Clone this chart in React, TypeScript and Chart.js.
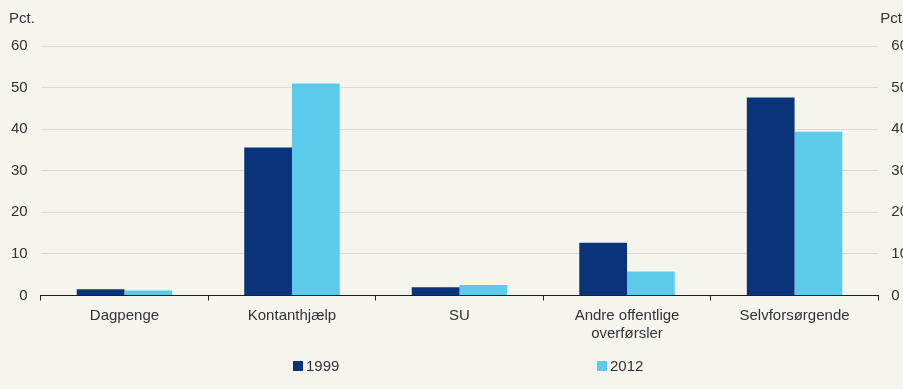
import React, { useEffect, useRef } from "react";
import { Chart, registerables } from "chart.js";

Chart.register(...registerables);

const categories: (string | string[])[] = [
  "Dagpenge",
  "Kontanthjælp",
  "SU",
  ["Andre offentlige", "overførsler"],
  "Selvforsørgende",
];
const seriesLabels = ["1999", "2012"];
const values1999 = [1.5, 35.6, 2.0, 12.7, 47.6];
const values2012 = [1.2, 51.0, 2.5, 5.8, 39.4];
const yMin = 0;
const yMax = 60;
const yStep = 10;
const unitLabel = "Pct.";

const BG = "#f5f4ed";
const DARK = "#0a3479";
const LIGHT = "#5ccbeb";
const TEXT = "#333333";
const GRID = "#dcdbd3";
const AXIS = "#1e1e1e";
const FONT = '"Liberation Sans", Arial, Helvetica, sans-serif';
const SHIFT = 13; // canvas is shifted left by this amount

const extrasPlugin = {
  id: "extras",
  afterDraw(chart: any) {
    const ctx = chart.ctx as CanvasRenderingContext2D;
    const area = chart.chartArea;
    ctx.save();
    ctx.font = `15px ${FONT}`;
    ctx.fillStyle = TEXT;
    ctx.textBaseline = "middle";
    ctx.textAlign = "left";
    ctx.fillText(unitLabel, 9 + SHIFT, 19);
    ctx.fillText(unitLabel, area.right + 2, 19);
    // legend
    const legendY = 366;
    const legendX = [293 + SHIFT, 597 + SHIFT];
    chart.data.datasets.forEach((ds: any, i: number) => {
      const x = legendX[i];
      ctx.fillStyle = ds.backgroundColor;
      ctx.fillRect(x, legendY - 5, 10, 10);
      ctx.fillStyle = TEXT;
      ctx.fillText(ds.label, x + 13, legendY + 1);
    });
    ctx.restore();
  },
};

export default function App() {
  const ref = useRef<HTMLCanvasElement | null>(null);

  useEffect(() => {
    if (!ref.current) return;
    const chart = new Chart(ref.current, {
      type: "bar",
      data: {
        labels: categories as any,
        datasets: [
          {
            label: seriesLabels[0],
            data: values1999,
            backgroundColor: DARK,
            categoryPercentage: 0.57,
            barPercentage: 1,
          },
          {
            label: seriesLabels[1],
            data: values2012,
            backgroundColor: LIGHT,
            categoryPercentage: 0.57,
            barPercentage: 1,
          },
        ],
      },
      options: {
        responsive: false,
        animation: false,
        layout: { padding: { left: 11, right: 12, top: 46, bottom: 40 } },
        plugins: {
          legend: { display: false },
          tooltip: { enabled: false },
        },
        scales: {
          x: {
            offset: true,
            grid: {
              display: true,
              offset: true,
              drawOnChartArea: false,
              drawTicks: true,
              tickLength: 5,
              color: AXIS,
            },
            border: { display: true, color: AXIS, width: 1 },
            ticks: {
              color: TEXT,
              font: { family: FONT, size: 15, lineHeight: 1.15 },
              padding: 7,
              maxRotation: 0,
              autoSkip: false,
            },
          },
          y: {
            position: "left",
            min: yMin,
            max: yMax,
            grid: { color: GRID, lineWidth: 1, drawTicks: false },
            border: { display: false },
            ticks: {
              stepSize: yStep,
              color: TEXT,
              font: { family: FONT, size: 15 },
              padding: 13,
            },
          },
          y2: {
            position: "right",
            min: yMin,
            max: yMax,
            grid: { display: false, drawTicks: false },
            border: { display: false },
            ticks: {
              stepSize: yStep,
              color: TEXT,
              font: { family: FONT, size: 15 },
              padding: 13,
            },
          },
        },
      },
      plugins: [extrasPlugin],
    });
    return () => chart.destroy();
  }, []);

  return (
    <div
      style={{
        position: "fixed",
        left: 0,
        top: 0,
        width: 903,
        height: 389,
        overflow: "hidden",
        background: BG,
      }}
    >
      <canvas
        ref={ref}
        width={946}
        height={389}
        style={{ display: "block", marginLeft: -SHIFT }}
      />
    </div>
  );
}
